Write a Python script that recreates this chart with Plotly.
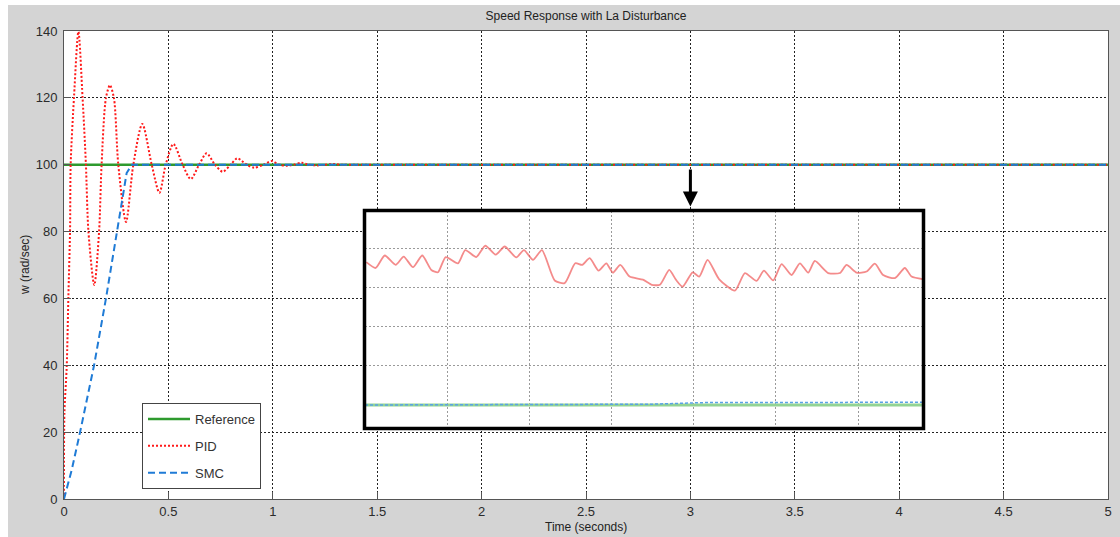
import plotly.graph_objects as go

# ---------------- data (main axes) ----------------
ref_t = [0, 5]
ref_w = [100, 100]

pid_t = [0, 0.002, 0.013, 0.021, 0.029, 0.032, 0.048, 0.069, 0.089, 0.105, 0.117, 0.145, 0.168, 0.180,
         0.201, 0.220, 0.239, 0.260, 0.297, 0.332, 0.375, 0.420, 0.457, 0.487, 0.524, 0.568, 0.607,
         0.647, 0.683, 0.723, 0.760, 0.798, 0.830, 0.875, 0.911, 0.955, 0.995, 1.030, 1.066, 1.100,
         1.138, 1.170, 1.210, 1.250, 1.290, 1.330, 1.400, 2.0, 3.0, 4.0, 5.0]
pid_w = [0, 25.7, 39.6, 60.5, 80.5, 100.2, 120.3, 139.8, 120.0, 100.0, 80.0, 64.0, 80.0, 100.0,
         120.0, 123.8, 120.0, 100.0, 82.9, 100.0, 112.2, 100.0, 91.6, 100.0, 106.2, 100.0, 95.7,
         100.0, 103.4, 100.0, 97.9, 100.0, 101.9, 100.0, 99.1, 100.0, 101.1, 100.0, 99.7, 100.0,
         100.6, 100.0, 99.8, 100.0, 100.2, 100.0, 100.0, 100.0, 100.0, 100.0, 100.0]

smc_t = [0, 0.037, 0.077, 0.144, 0.201, 0.252, 0.276, 0.300, 0.325, 5.0]
smc_w = [0, 8.7, 20.0, 40.0, 60.0, 80.0, 89.4, 97.5, 100.0, 100.0]

x_ticks = [0, 0.5, 1, 1.5, 2, 2.5, 3, 3.5, 4, 4.5, 5]
x_ticklabels = ["0", "0.5", "1", "1.5", "2", "2.5", "3", "3.5", "4", "4.5", "5"]
y_ticks = [0, 20, 40, 60, 80, 100, 120, 140]

# ---------------- data (zoomed inset) ----------------
inset_t = [0.016, 0.130, 0.240, 0.373, 0.471, 0.584, 0.697, 0.807, 0.888, 0.982, 1.131, 1.220,
           1.354, 1.464, 1.590, 1.700, 1.841, 1.934, 2.044, 2.153, 2.308, 2.429, 2.558, 2.644,
           2.734, 2.843, 2.936, 3.017, 3.106, 3.220, 3.382, 3.488, 3.589, 3.702, 3.783, 3.865,
           3.987, 4.067, 4.169, 4.310, 4.501, 4.623, 4.765, 4.854, 4.967, 5.069, 5.191, 5.292,
           5.393, 5.474, 5.636, 5.779, 5.860, 5.982, 6.103, 6.204, 6.305, 6.448, 6.569, 6.651, 6.792]
inset_pid = [100.366, 100.351, 100.383, 100.359, 100.380, 100.353, 100.383, 100.346, 100.340,
             100.379, 100.363, 100.397, 100.379, 100.408, 100.385, 100.406, 100.378, 100.397,
             100.372, 100.397, 100.319, 100.312, 100.363, 100.359, 100.376, 100.344, 100.363,
             100.339, 100.359, 100.329, 100.321, 100.308, 100.308, 100.346, 100.321, 100.303,
             100.340, 100.329, 100.372, 100.322, 100.293, 100.338, 100.318, 100.344, 100.319,
             100.361, 100.333, 100.363, 100.339, 100.369, 100.338, 100.338, 100.359, 100.339,
             100.342, 100.362, 100.333, 100.325, 100.351, 100.329, 100.322]
inset_ref_t = [0, 6.79]
inset_ref = [100.0, 100.0]
inset_smc_t = [0, 1.0, 3.5, 4.1, 6.79]
inset_smc = [100.0, 100.001, 100.002, 100.006, 100.007]

# ---------------- figure ----------------
W, H = 1120, 537
L, R, T, B = 64, 12, 31, 38
pw, ph = W - L - R, H - T - B


def px2x(px):
    return (px - L) / pw


def py2y(py):
    return (H - B - py) / ph


FONT = "Liberation Sans"
fig = go.Figure()

fig.add_trace(go.Scatter(x=ref_t, y=ref_w, mode="lines", name="Reference",
                         line=dict(color="#2e9a2e", width=2.5), legendgroup="a"))
fig.add_trace(go.Scatter(x=pid_t, y=pid_w, mode="lines", name="PID",
                         line=dict(color="#ff1a1a", width=2, dash="2px,2px", shape="spline", smoothing=0.8),
                         legendgroup="b"))
fig.add_trace(go.Scatter(x=smc_t, y=smc_w, mode="lines", name="SMC",
                         line=dict(color="#1f7bd6", width=2, dash="7px,4px"),
                         legendgroup="c"))

# inset traces
fig.add_trace(go.Scatter(x=inset_ref_t, y=inset_ref, mode="lines", xaxis="x2", yaxis="y2",
                         line=dict(color="#93d493", width=3), showlegend=False))
fig.add_trace(go.Scatter(x=inset_smc_t, y=inset_smc, mode="lines", xaxis="x2", yaxis="y2",
                         line=dict(color="#5aa2e6", width=1.5, dash="3px,2px"), showlegend=False))
fig.add_trace(go.Scatter(x=inset_t, y=inset_pid, mode="lines", xaxis="x2", yaxis="y2",
                         line=dict(color="rgba(240,90,90,0.7)", width=1.8, shape="spline", smoothing=0.6),
                         showlegend=False))

axis_common = dict(showline=True, mirror=True, linecolor="#555555", linewidth=1,
                   ticks="inside", ticklen=7, tickcolor="#555555", automargin=False,
                   showgrid=True, gridcolor="#222222", gridwidth=1, griddash="2px,2px",
                   zeroline=False, tickfont=dict(family=FONT, size=13, color="#2b2b2b"))

in_x0, in_x1 = px2x(365), px2x(923)
in_y0, in_y1 = py2y(428), py2y(211)

fig.update_layout(
    width=W, height=H, autosize=False,
    margin=dict(l=L, r=R, t=T, b=B),
    paper_bgcolor="white", plot_bgcolor="white",
    title=dict(text="Speed Response with La Disturbance", x=586 / W,
               xanchor="center", y=1 - 16 / H, yanchor="middle",
               font=dict(family=FONT, size=12, color="#222222")),
    xaxis=dict(range=[0, 5], tickvals=x_ticks, ticktext=x_ticklabels, **axis_common),
    yaxis=dict(range=[0, 140], tickvals=y_ticks, ticklabelstandoff=3, **axis_common),
    xaxis2=dict(domain=[in_x0, in_x1], anchor="y2", range=[0, 6.79], dtick=1,
                showticklabels=False, ticks="", showline=False, zeroline=False,
                showgrid=True, gridcolor="#9a9a9a", gridwidth=1, griddash="2px,2px"),
    yaxis2=dict(domain=[in_y0, in_y1], anchor="x2", range=[99.941, 100.497], dtick=0.1, tick0=100,
                showticklabels=False, ticks="", showline=False, zeroline=False,
                showgrid=True, gridcolor="#9a9a9a", gridwidth=1, griddash="2px,2px"),
    legend=dict(x=px2x(142), y=py2y(403), xanchor="left", yanchor="top",
                bgcolor="white", bordercolor="#444444", borderwidth=1,
                font=dict(family=FONT, size=13, color="#333333"),
                itemwidth=42, tracegroupgap=7, traceorder="grouped",
                entrywidth=80, entrywidthmode="pixels"),
    showlegend=True,
)

# axis titles
fig.add_annotation(text="Time (seconds)", xref="paper", yref="paper", x=0.5, y=py2y(527),
                   xanchor="center", yanchor="middle", showarrow=False,
                   font=dict(family=FONT, size=12, color="#222222"))
fig.add_annotation(text="w (rad/sec)", xref="paper", yref="paper", x=px2x(25), y=0.5,
                   xanchor="center", yanchor="middle", showarrow=False, textangle=-90,
                   font=dict(family=FONT, size=12, color="#222222"))

fig.add_shape(type="rect", xref="paper", yref="paper", layer="below",
              x0=px2x(8), x1=px2x(1130), y0=py2y(545), y1=py2y(5),
              fillcolor="#d4d4d4", line=dict(width=0))
fig.add_shape(type="rect", xref="paper", yref="paper", layer="below",
              x0=0, x1=1, y0=0, y1=1, fillcolor="white", line=dict(width=0))
fig.add_shape(type="rect", xref="paper", yref="paper", layer="above",
              x0=px2x(364.5), x1=px2x(923.5), y0=py2y(428.5), y1=py2y(210.5),
              line=dict(color="black", width=3.5), fillcolor="rgba(0,0,0,0)")

fig.add_annotation(x=3, y=87.5, ax=3, ay=99.0, xref="x", yref="y", axref="x", ayref="y",
                   showarrow=True, arrowhead=2, arrowsize=1, arrowwidth=3, arrowcolor="black", text="")

fig.write_html("out.html")
